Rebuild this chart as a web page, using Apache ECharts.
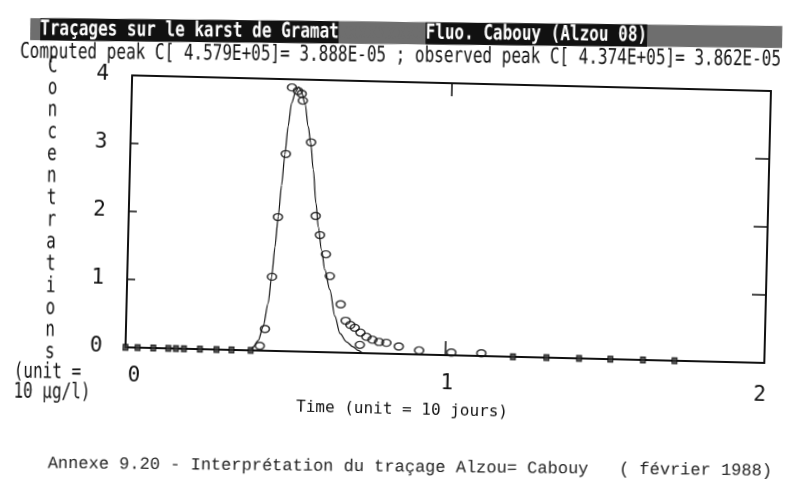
<!DOCTYPE html>
<html>
<head>
<meta charset="utf-8">
<script src="https://cdn.jsdelivr.net/npm/echarts@6/dist/echarts.min.js"></script>
<style>
  html, body { margin: 0; padding: 0; background: #fff; overflow: hidden; }
  #chart { width: 800px; height: 496px; background: #fff; transform: rotate(1.4deg); transform-origin: 400px 248px; }
</style>
</head>
<body>
<div id="chart"></div>
<script>
// ---- data (time in units of 10 days, concentration in units of 10 µg/l) ----
const computedT = [0, 0.392, 0.399, 0.415, 0.429, 0.443, 0.452, 0.460, 0.468, 0.476, 0.484, 0.492, 0.501, 0.513, 0.522, 0.531, 0.543, 0.555, 0.564, 0.574, 0.585, 0.594, 0.606, 0.618, 0.635, 0.653, 0.670, 0.691, 0.712, 0.728, 0.745, 2.0];
const computedC = [0, 0, 0.05, 0.15, 0.35, 0.70, 1.09, 1.53, 1.98, 2.44, 2.89, 3.31, 3.65, 3.82, 3.89, 3.82, 3.65, 3.31, 3.07, 2.68, 2.19, 1.84, 1.50, 1.21, 0.92, 0.53, 0.28, 0.16, 0.09, 0.04, 0, 0];

const observedT = [0.420, 0.435, 0.453, 0.467, 0.487, 0.501, 0.520, 0.532, 0.536, 0.565, 0.585, 0.600, 0.620, 0.634, 0.670, 0.687, 0.702, 0.716, 0.733, 0.734, 0.753, 0.772, 0.793, 0.816, 0.855, 0.919, 1.020, 1.114];
const observedC = [0.07, 0.32, 1.09, 1.97, 2.90, 3.88, 3.83, 3.79, 3.69, 3.08, 2.00, 1.72, 1.44, 1.12, 0.71, 0.47, 0.41, 0.37, 0.12, 0.30, 0.24, 0.20, 0.17, 0.16, 0.11, 0.06, 0.04, 0.04];

const zeroObsT = [0, 0.038, 0.087, 0.134, 0.158, 0.183, 0.233, 0.285, 0.332, 0.392, 1.213, 1.318, 1.420, 1.518, 1.620, 1.719];
const zeroObsC = [0, 0, 0, 0, 0, 0, 0, 0, 0, 0, 0, 0, 0, 0, 0, 0];

const xTickLabels = ['0', '1', '2'];
const yTickLabels = ['0', '1', '2', '3', '4'];

const titleLeft = 'Traçages sur le karst de Gramat';
const titleRight = 'Fluo. Cabouy (Alzou 08)';
const subTitle = 'Computed peak C[ 4.579E+05]= 3.888E-05 ; observed peak C[ 4.374E+05]= 3.862E-05';
const yNameLetters = 'Concentrations';
const yUnit = '(unit =\n10 µg/l)';
const xName = 'Time (unit = 10 jours)';
const caption = 'Annexe 9.20 - Interprétation du traçage Alzou= Cabouy   ( février 1988)';

const zip = (a, b) => a.map((v, i) => [v, b[i]]);
const pad = (n) => 'x'.repeat(n);

const INK = '#111';
const MONO = 'DejaVu Sans Mono';
const BAND_DARK = '#111';
const BAND_GREY = '#6e6e6e';

const chart = echarts.init(document.getElementById('chart'), null, { renderer: 'canvas' });

const bandStyle = (bg, fg) => ({
  fontFamily: MONO, fontSize: 16, fontWeight: 'bold', fill: fg, color: fg,
  backgroundColor: bg, lineHeight: 17, height: 17
});

const option = {
  animation: false,
  grid: { left: 128, right: 33, top: 82, bottom: 142, containLabel: false },
  xAxis: [{
    type: 'value', position: 'bottom', min: 0, max: 2, interval: 1,
    axisLine: { show: true, onZero: false, lineStyle: { color: INK, width: 2 } },
    axisTick: { show: true, inside: true, length: 14, lineStyle: { color: INK, width: 1.5 } },
    splitLine: { show: false },
    axisLabel: {
      margin: 18, color: INK, fontFamily: MONO, fontSize: 21,
      formatter: (v) => {
        const i = Math.round(v);
        const key = ['a', 'b', 'c'][i];
        return '{' + key + '|' + xTickLabels[i] + '}';
      },
      rich: {
        a: { fontFamily: MONO, fontSize: 21, color: INK, padding: [0, 0, 0, 18] },
        b: { fontFamily: MONO, fontSize: 21, color: INK, padding: [0, 0, 0, 5] },
        c: { fontFamily: MONO, fontSize: 21, color: INK, padding: [4, 8, 0, 0] }
      }
    },
    name: xName, nameLocation: 'middle', nameGap: 39,
    nameTextStyle: { fontFamily: MONO, fontSize: 16, color: INK, padding: [0, 83, 0, 0] }
  }, {
    type: 'value', position: 'top', min: 0, max: 2, interval: 1,
    axisLine: { show: true, onZero: false, lineStyle: { color: INK, width: 2 } },
    axisTick: { show: true, inside: true, length: 13, lineStyle: { color: INK, width: 1.5 } },
    axisLabel: { show: false }, splitLine: { show: false }
  }],
  yAxis: [{
    type: 'value', position: 'left', min: 0, max: 4, interval: 1,
    axisLine: { show: true, onZero: false, lineStyle: { color: INK, width: 2 } },
    axisTick: { show: true, inside: true, length: 8, lineStyle: { color: INK, width: 1.5 } },
    splitLine: { show: false },
    axisLabel: {
      margin: 23, color: INK, fontFamily: MONO, fontSize: 21, padding: [20, 0, 0, 0],
      formatter: (v) => yTickLabels[Math.round(v)]
    }
  }, {
    type: 'value', position: 'right', min: 0, max: 4, interval: 1,
    axisLine: { show: true, onZero: false, lineStyle: { color: INK, width: 2 } },
    axisTick: { show: true, inside: true, length: 14, lineStyle: { color: INK, width: 1.5 } },
    axisLabel: { show: false }, splitLine: { show: false }
  }],
  series: [{
    name: 'computed', type: 'line', xAxisIndex: 0, yAxisIndex: 0,
    data: zip(computedT, computedC),
    showSymbol: false, smooth: 0.3, smoothMonotone: 'x',
    lineStyle: { color: INK, width: 1.2 }, z: 2
  }, {
    name: 'observed', type: 'scatter', xAxisIndex: 0, yAxisIndex: 0,
    data: zip(observedT, observedC),
    symbol: 'circle', symbolSize: [9, 7],
    itemStyle: { color: 'rgba(0,0,0,0)', borderColor: INK, borderWidth: 1.5 }, z: 3
  }, {
    name: 'observed zero', type: 'scatter', xAxisIndex: 0, yAxisIndex: 0,
    data: zip(zeroObsT, zeroObsC),
    symbol: 'rect', symbolSize: [5, 6],
    itemStyle: { color: '#333', borderColor: '#000', borderWidth: 1 }, z: 3
  }],
  graphic: {
    elements: [{
      type: 'group', id: 'band', zlevel: 2, originX: 400, originY: 248, rotation: 0.014,
      children: [{
        type: 'rect', zlevel: 2, z: 10,
        shape: { x: 28, y: 22, width: 752, height: 22 },
        style: { fill: BAND_GREY }
      }, {
        type: 'text', zlevel: 2, z: 20, x: 38, y: 33, scaleY: 1.3,
        style: {
          text: '{b|' + titleLeft + '}{g|' + pad(9) + '}{b|' + titleRight + '}',
          verticalAlign: 'middle', align: 'left',
          font: 'bold 16px "' + MONO + '"', fill: '#fff',
          rich: { b: bandStyle(BAND_DARK, '#fff'), g: bandStyle(BAND_GREY, BAND_GREY) }
        }
      }]
    }, {
      type: 'group', id: 'texts', originX: 400, originY: 248, rotation: 0.014,
      children: [{
        type: 'text', x: 18, y: 56, scaleY: 1.35,
        style: {
          text: subTitle, fill: INK, verticalAlign: 'middle', align: 'left',
          font: '16px "' + MONO + '"'
        }
      }, {
        type: 'text', x: 51, y: 59, scaleY: 1.35,
        style: {
          text: yNameLetters.split('').join('\n'), fill: INK, verticalAlign: 'top', align: 'center',
          font: '16px "' + MONO + '"', lineHeight: 16.3
        }
      }, {
        type: 'text', x: 15, y: 366, scaleY: 1.35,
        style: {
          text: yUnit, fill: INK, verticalAlign: 'top', align: 'left',
          font: '16px "' + MONO + '"', lineHeight: 14.8
        }
      }, {
        type: 'text', x: 50, y: 467,
        style: {
          text: caption, fill: '#222', verticalAlign: 'middle', align: 'left',
          font: '17px "Liberation Mono"'
        }
      }]
    }]
  }
};

chart.setOption(option);
</script>
</body>
</html>
